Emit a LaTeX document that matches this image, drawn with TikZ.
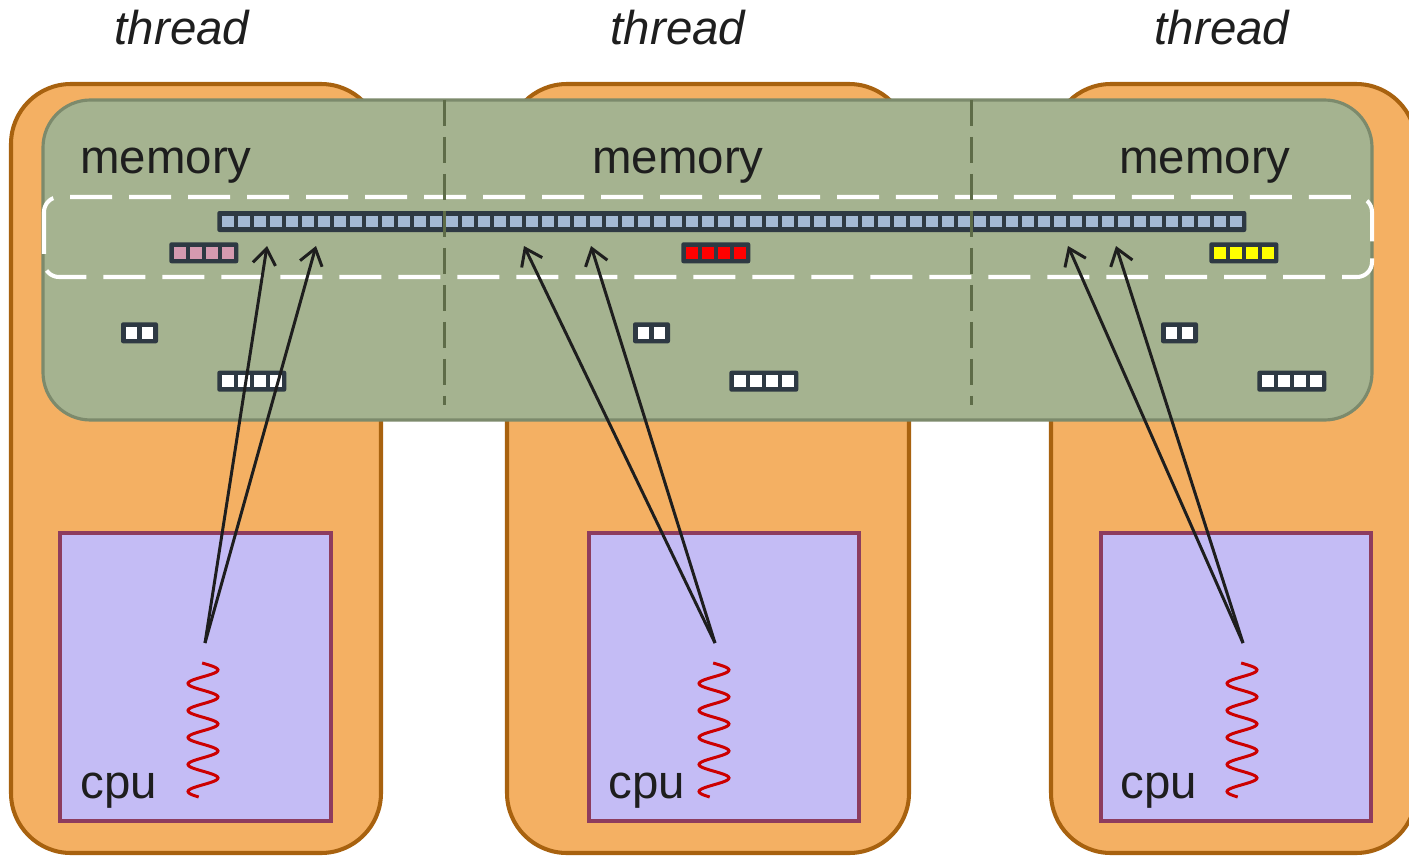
\documentclass[tikz,border=0pt]{standalone}
\usepackage{fontspec}
\setmainfont{Liberation Sans}
\usepackage{tikz}
\usetikzlibrary{arrows.meta}

\definecolor{threadfill}{HTML}{F4B063}
\definecolor{threadline}{HTML}{A8620F}
\definecolor{memfill}{HTML}{A5B390}
\definecolor{memline}{HTML}{7C8A6C}
\definecolor{splitline}{HTML}{5E6C48}
\definecolor{cpufill}{HTML}{C4BCF5}
\definecolor{cpuline}{HTML}{8D3C5E}
\definecolor{cellframe}{HTML}{2E3943}
\definecolor{bluecell}{HTML}{A4B9D4}
\definecolor{pinkcell}{HTML}{D59AB0}
\definecolor{redcell}{HTML}{FF0000}
\definecolor{yellowcell}{HTML}{FFFF00}
\definecolor{txt}{HTML}{1E1E1E}
\definecolor{wavered}{HTML}{CC0000}

% row of #3 cells, top left corner at (#1,#2), cells filled with #4
\newcommand\cellrow[4]{%
  \fill[cellframe,rounded corners=1.2pt] (#1,#2) rectangle ++({16*#3+5},21);
  \foreach \k in {1,...,#3}
    \fill[#4] ({#1+16*\k-11.25},{#2+4.75}) rectangle ++(11.5,11.5);
}

\begin{document}
\begin{tikzpicture}[x=0.02cm, y=-0.02cm]
  \tikzset{font=\fontsize{27}{32}\selectfont, text=txt, inner sep=0pt}
  \tikzset{threadbox/.style = {draw=threadline, fill=threadfill, line width=2.3pt, rounded corners=1.2cm}}
  \tikzset{membox/.style = {draw=memline, fill=memfill, line width=1.8pt, rounded corners=0.95cm}}
  \tikzset{cpubox/.style = {draw=cpuline, fill=cpufill, line width=2.4pt}}
  \tikzset{split/.style = {draw=splitline, line width=1.7pt, dash pattern=on 0.52cm off 0.22cm}}
  \tikzset{shared/.style = {draw=white, line width=2.3pt, rounded corners=0.3cm, dash pattern=on 0.84cm off 0.34cm}}
  \tikzset{wave/.style = {draw=wavered, line width=1.7pt}}
  \tikzset{ptr/.style = {draw=txt, line width=1.7pt, -{Straight Barb[length=9pt,width=13pt]}}}

  \useasboundingbox (0,0) rectangle (1409,855);
  \clip (0,0) rectangle (1409,855);

  % threads
  \draw[threadbox] (11,84) rectangle (381,853);
  \draw[threadbox] (507,84) rectangle (909,853);
  \draw[threadbox] (1051,84) rectangle (1416,853);

  % shared memory
  \draw[membox] (43,100) rectangle (1372,420);

  % cpus
  \draw[cpubox] (60,533) rectangle (331,821);
  \draw[cpubox] (589,533) rectangle (859,821);
  \draw[cpubox] (1101,533) rectangle (1371,821);

  \node[anchor=base,font=\fontsize{27}{32}\selectfont\itshape] (th1) at (182,45) {thread};
  \node[anchor=base,font=\fontsize{27}{32}\selectfont\itshape] (th2) at (678,45) {thread};
  \node[anchor=base,font=\fontsize{27}{32}\selectfont\itshape] (th3) at (1222,45) {thread};

  \node[anchor=base] (mem1) at (166,173) {memory};
  \node[anchor=base] (mem2) at (678,173) {memory};
  \node[anchor=base] (mem3) at (1205,173) {memory};

  \node[anchor=base west] (cpu1) at (80,798) {cpu};
  \node[anchor=base west] (cpu2) at (608,798) {cpu};
  \node[anchor=base west] (cpu3) at (1120,798) {cpu};

  % data
  \cellrow{217.3}{211}{64}{bluecell}
  \foreach \off/\col in {0/pinkcell, 512/redcell, 1040/yellowcell} {
    \cellrow{169.3+\off}{242.3}{4}{\col}
    \cellrow{121+\off}{322.3}{2}{white}
    \cellrow{217.3+\off}{370.7}{4}{white}
  }

  \draw[shared] (44,197) rectangle (1372,277);
  \draw[split] (444,100) -- (444,405);
  \draw[split] (971,100) -- (971,405);

  % running code
  \foreach \cx in {203,714,1242}
    \draw[wave] plot[domain=0:134,samples=120,smooth] ({\cx+15*sin(13.3333*(\x-19)+90)},{797-\x});

  \coordinate (src1) at (205,643);
  \coordinate (src2) at (715,643);
  \coordinate (src3) at (1243,643);
  \coordinate (dst1a) at (267,246);
  \coordinate (dst1b) at (316,246);
  \coordinate (dst2a) at (524,246);
  \coordinate (dst2b) at (591,246);
  \coordinate (dst3a) at (1068,246);
  \coordinate (dst3b) at (1116,246);

  \draw[ptr] (src1) -- (dst1a);
  \draw[ptr] (src1) -- (dst1b);
  \draw[ptr] (src2) -- (dst2a);
  \draw[ptr] (src2) -- (dst2b);
  \draw[ptr] (src3) -- (dst3a);
  \draw[ptr] (src3) -- (dst3b);
\end{tikzpicture}
\end{document}
